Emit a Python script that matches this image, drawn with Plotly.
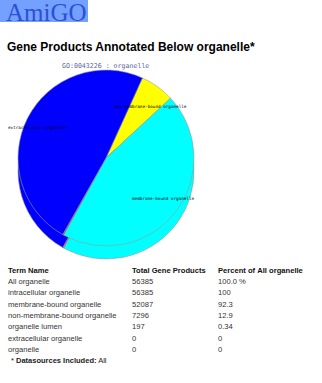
import plotly.graph_objects as go

# ---- data ----
pie_labels = ["non-membrane-bound organelle", "membrane-bound organelle", "organelle lumen", "intracellular organelle"]
pie_values = [7296, 52087, 197, 56385]
pie_colors = ["#ffff00", "#00ffff", "#ff0000", "#0000ff"]

slice_text = ["non-membrane-bound organelle", "extracellular organelle", "membrane-bound organelle"]

term_names = ["All organelle", "intracellular organelle", "membrane-bound organelle",
              "non-membrane-bound organelle", "organelle lumen", "extracellular organelle", "organelle"]
total_products = ["56385", "56385", "52087", "7296", "197", "0", "0"]
percents = ["100.0 %", "100", "92.3", "12.9", "0.34", "0", "0"]
headers = ["Term Name", "Total Gene Products", "Percent of All organelle"]

W, H = 322, 383

def px(x):
    return x / W

def py(y):
    return 1 - y / H

NB = "\u00a0"

def nobreak(s):
    return s.replace(" ", NB)

fig = go.Figure()

# pie geometry (pixels)
cx, cy, D, depth = 106, 158, 176, 13

def dom(cyy):
    return dict(x=[px(cx - D / 2), px(cx + D / 2)], y=[py(cyy + D / 2), py(cyy - D / 2)])

# side (depth) of the 3D pie
fig.add_trace(go.Pie(labels=pie_labels, values=pie_values, sort=False, direction="clockwise",
                     rotation=24.5, domain=dom(cy + depth), textinfo="none", hoverinfo="skip",
                     marker=dict(colors=pie_colors, line=dict(color="#9a9a9a", width=0.6)),
                     showlegend=False))
# top face
fig.add_trace(go.Pie(labels=pie_labels, values=pie_values, sort=False, direction="clockwise",
                     rotation=24.5, domain=dom(cy), textinfo="none",
                     marker=dict(colors=pie_colors, line=dict(color="#9a9a9a", width=0.6)),
                     showlegend=False))

# table
clear = "rgba(0,0,0,0)"
fig.add_trace(go.Table(
    domain=dict(x=[0, 1], y=[py(372), py(259)]),
    columnwidth=[124, 86, 112],
    header=dict(values=[nobreak(h) for h in headers], align="left", height=11.35,
                fill=dict(color=clear), line=dict(color=clear, width=0),
                font=dict(family="Liberation Sans, Arial", size=7.6, color="#111", weight="bold")),
    cells=dict(values=[[nobreak(t) for t in term_names], total_products, [nobreak(p) for p in percents]],
               align="left", height=11.35,
               fill=dict(color=clear), line=dict(color=clear, width=0),
               font=dict(family="Liberation Sans, Arial", size=7.6, color="#333")),
))

annotations = []
# AmiGO logo
annotations.append(dict(x=px(4), y=py(12), xref="paper", yref="paper", xanchor="left", yanchor="middle",
                        text="AmiGO", showarrow=False,
                        font=dict(family="Liberation Serif, Times New Roman, serif", size=25, color="#2d4fd6")))
# heading
annotations.append(dict(x=px(5), y=py(47), xref="paper", yref="paper", xanchor="left", yanchor="middle",
                        text="<b>Gene Products Annotated Below organelle*</b>", showarrow=False,
                        font=dict(family="Liberation Sans, Arial", size=12, color="#000")))
# pie title
annotations.append(dict(x=px(105), y=py(66), xref="paper", yref="paper", xanchor="center", yanchor="middle",
                        text="GO:0043226 : organelle", showarrow=False,
                        font=dict(family="DejaVu Sans Mono, monospace", size=6.6, color="#5865a0")))
# slice labels
for t, (lx, ly) in zip(slice_text, [(150, 107), (38, 127), (163, 198)]):
    annotations.append(dict(x=px(lx), y=py(ly), xref="paper", yref="paper", xanchor="center", yanchor="middle",
                            text=t, showarrow=False,
                            font=dict(family="DejaVu Sans Mono, monospace", size=4.3, color="#000")))
# footnote
annotations.append(dict(x=px(9), y=py(360), xref="paper", yref="paper", xanchor="left", yanchor="middle",
                        text="* <b>Datasources Included:</b> All", showarrow=False,
                        font=dict(family="Liberation Sans, Arial", size=7.5, color="#222")))

fig.update_layout(
    width=W, height=H, margin=dict(l=0, r=0, t=0, b=0),
    paper_bgcolor="white", plot_bgcolor="white",
    annotations=annotations,
    shapes=[dict(type="rect", xref="paper", yref="paper", x0=0, x1=px(88), y0=py(22), y1=py(0),
                 fillcolor="#74a0ff", line=dict(width=0), layer="below")],
)

fig.write_html("out.html")
